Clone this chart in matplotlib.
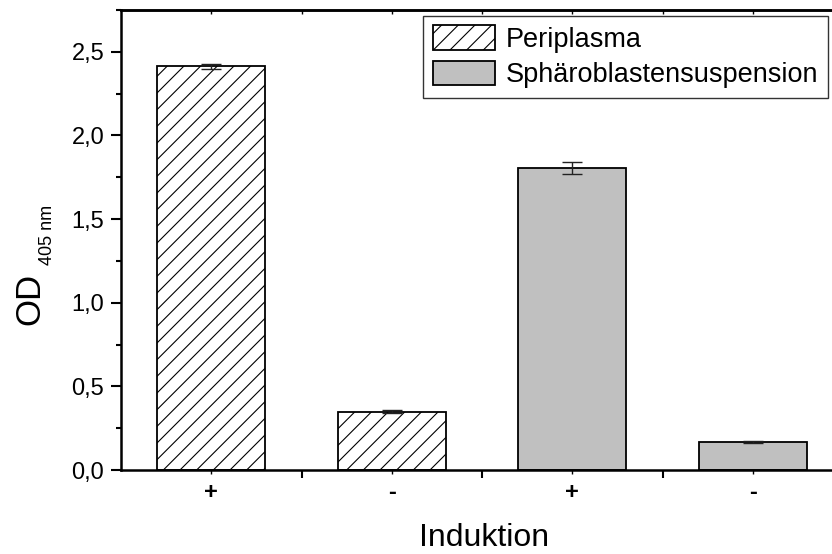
import matplotlib.pyplot as plt
from matplotlib.ticker import MultipleLocator, FixedLocator

plt.rcParams['font.family'] = ['Liberation Sans', 'DejaVu Sans']
plt.rcParams['hatch.linewidth'] = 0.8

# data
positions = [1, 2, 3, 4]
induktion = ['+', '-', '+', '-']
values = [2.413, 0.348, 1.806, 0.168]
errors = [0.016, 0.009, 0.036, 0.007]
series = ['Periplasma', 'Periplasma', 'Sphäroblastensuspension', 'Sphäroblastensuspension']

fig = plt.figure(figsize=(8.32, 5.54), dpi=100)
ax = fig.add_axes([121 / 832, 84 / 554, 722 / 832, 460 / 554])

handles = {}
for x, v, e, s in zip(positions, values, errors, series):
    if s == 'Periplasma':
        b = ax.bar(x, v, width=0.6, facecolor='white', edgecolor='black',
                   hatch='//', linewidth=1.3, label=s, zorder=2)
    else:
        b = ax.bar(x, v, width=0.6, facecolor='#c0c0c0', edgecolor='black',
                   linewidth=1.3, label=s, zorder=2)
    handles[s] = b
    ax.errorbar(x, v, yerr=e, fmt='none', ecolor='#222222', elinewidth=1,
                capsize=7.5, capthick=1, zorder=3)

ax.set_xlim(0.5, 4.5)
ax.set_ylim(0, 2.75)

ax.yaxis.set_major_locator(MultipleLocator(0.5))
ax.yaxis.set_minor_locator(MultipleLocator(0.25))
ax.set_yticklabels([f'{t:.1f}'.replace('.', ',') for t in ax.get_yticks()])
ax.tick_params(axis='y', which='major', direction='out', length=7, width=1.5,
               labelsize=17, pad=5)
ax.tick_params(axis='y', which='minor', direction='out', length=3.6, width=1.5)

ax.set_xticks(positions)
ax.set_xticklabels(induktion, fontsize=17, fontweight='bold')
ax.xaxis.set_minor_locator(FixedLocator([1.5, 2.5, 3.5]))
ax.tick_params(axis='x', which='major', direction='out', length=3, width=1,
               pad=5)
ax.tick_params(axis='x', which='minor', direction='out', length=6, width=1.5)

top = ax.secondary_xaxis('top')
top.set_xticks(positions + [1.5, 2.5, 3.5])
top.set_xticklabels([])
top.tick_params(direction='in', length=3, width=1)
top.spines['top'].set_linewidth(1.8)

ax.spines['left'].set_linewidth(1.8)
ax.spines['bottom'].set_linewidth(1.8)
ax.spines['top'].set_linewidth(1.8)
ax.spines['right'].set_visible(False)

fig.text(30 / 832, 1 - 299 / 554, 'OD', rotation=90, fontsize=25,
         ha='center', va='center')
fig.text(47 / 832, 1 - 235 / 554, '405 nm', rotation=90, fontsize=13,
         ha='center', va='center')
fig.text(484 / 832, 1 - 538 / 554, 'Induktion', fontsize=23,
         ha='center', va='center')

leg = ax.legend(list(handles.values()), list(handles.keys()), loc='upper right',
                bbox_to_anchor=(828 / 832, 1 - 16 / 554), bbox_transform=fig.transFigure,
                fontsize=19.5, frameon=True, fancybox=False, edgecolor='black',
                handlelength=2.3, handleheight=1.0, handletextpad=0.4,
                borderpad=0.35, labelspacing=0.3, borderaxespad=0)
leg.get_frame().set_linewidth(1)

fig.savefig('out.png', dpi=100)
